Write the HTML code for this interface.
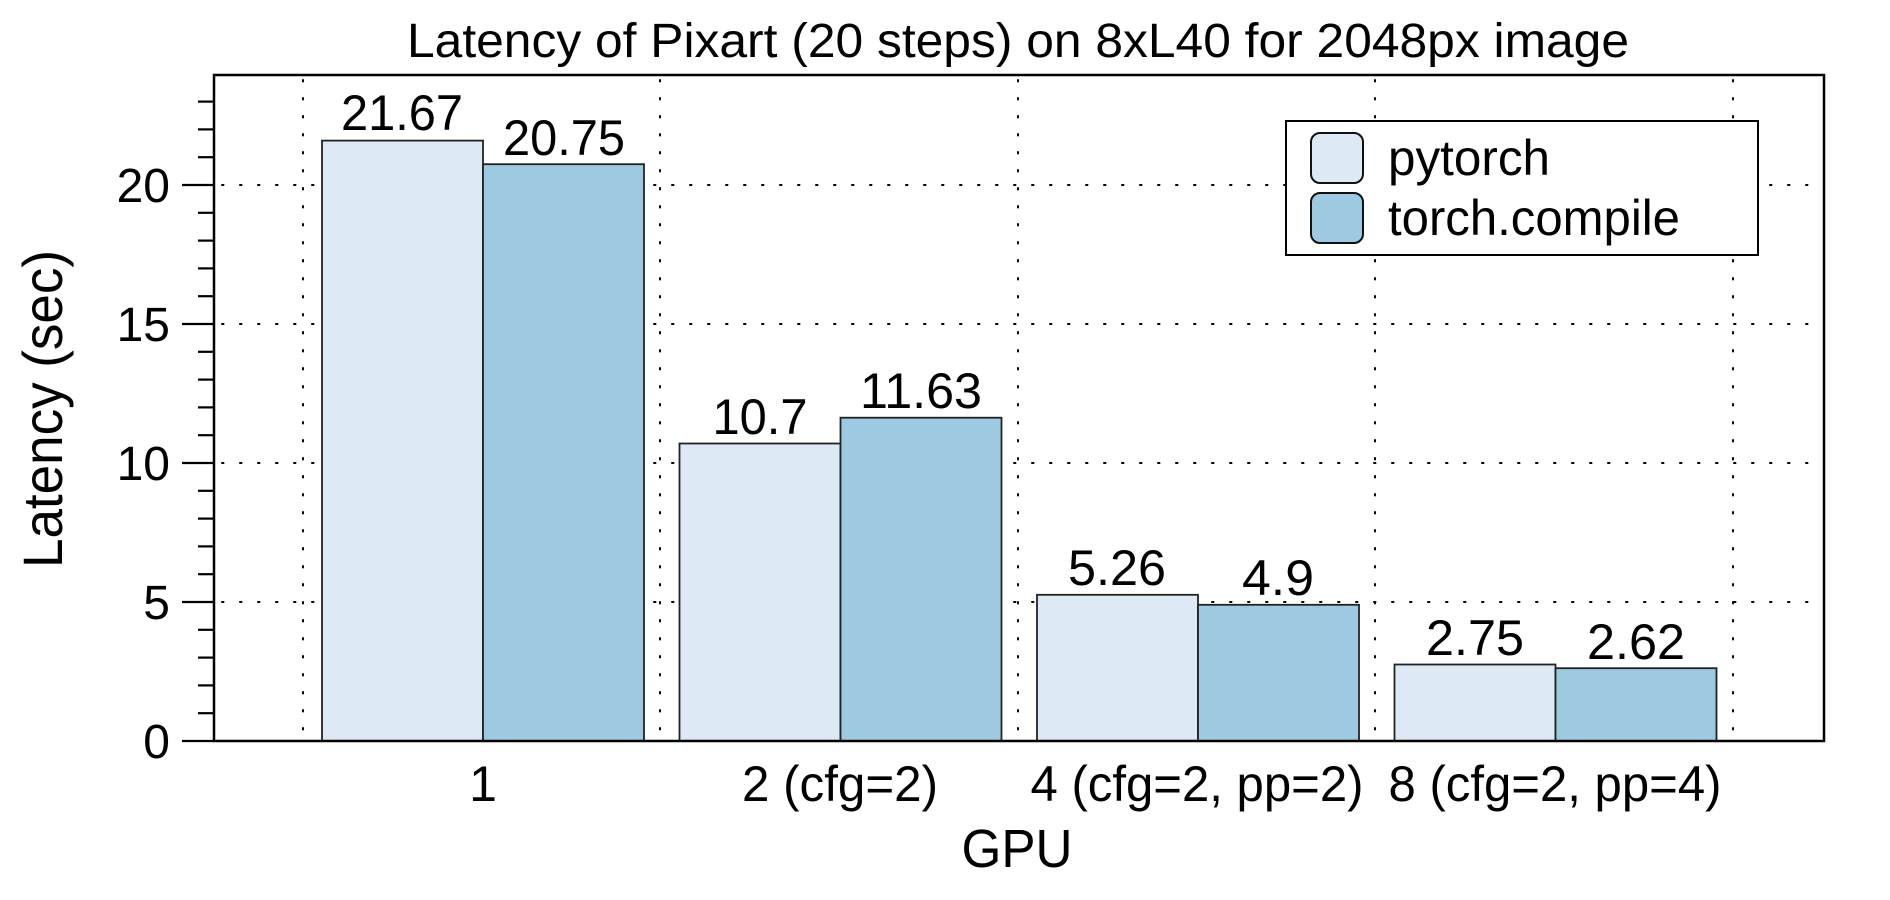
<!DOCTYPE html>
<html><head><meta charset="utf-8"><style>
html,body{margin:0;padding:0;background:#fff;}
svg{display:block;font-family:"Liberation Sans",Arial,sans-serif;}
</style></head><body>
<svg width="1890" height="900" viewBox="0 0 1890 900" xmlns="http://www.w3.org/2000/svg">
<rect width="1890" height="900" fill="#fff"/>
<text x="1018" y="57" font-size="48" text-anchor="middle" textLength="1222" lengthAdjust="spacingAndGlyphs">Latency of Pixart (20 steps) on 8xL40 for 2048px image</text>
<g stroke="#000" stroke-width="2" stroke-dasharray="1.5 16.5" stroke-linecap="round">
<line x1="303" y1="80" x2="303" y2="740"/>
<line x1="660" y1="80" x2="660" y2="740"/>
<line x1="1018" y1="80" x2="1018" y2="740"/>
<line x1="1375" y1="80" x2="1375" y2="740"/>
<line x1="1733" y1="80" x2="1733" y2="740"/>
<line x1="222" y1="602" x2="1822" y2="602"/>
<line x1="222" y1="463" x2="1822" y2="463"/>
<line x1="222" y1="324" x2="1822" y2="324"/>
<line x1="222" y1="185" x2="1822" y2="185"/>
</g>
<g stroke="#222" stroke-width="1.8">
<rect x="322" y="140.6" width="161" height="600.4" fill="#dde9f5"/>
<rect x="483" y="164.2" width="161" height="576.8" fill="#9ecae1"/>
<rect x="679.5" y="443.5" width="161" height="297.5" fill="#dde9f5"/>
<rect x="840.5" y="417.7" width="161" height="323.3" fill="#9ecae1"/>
<rect x="1037" y="594.8" width="161" height="146.2" fill="#dde9f5"/>
<rect x="1198" y="604.8" width="161" height="136.2" fill="#9ecae1"/>
<rect x="1394.5" y="664.5" width="161" height="76.5" fill="#dde9f5"/>
<rect x="1555.5" y="668.2" width="161" height="72.8" fill="#9ecae1"/>
</g>
<g font-size="50" text-anchor="middle">
<text x="402" y="130" textLength="122" lengthAdjust="spacingAndGlyphs">21.67</text>
<text x="564" y="155" textLength="122" lengthAdjust="spacingAndGlyphs">20.75</text>
<text x="760" y="434" textLength="95" lengthAdjust="spacingAndGlyphs">10.7</text>
<text x="921" y="408" textLength="122" lengthAdjust="spacingAndGlyphs">11.63</text>
<text x="1117" y="585" textLength="98" lengthAdjust="spacingAndGlyphs">5.26</text>
<text x="1278" y="595" textLength="72" lengthAdjust="spacingAndGlyphs">4.9</text>
<text x="1475" y="655" textLength="98" lengthAdjust="spacingAndGlyphs">2.75</text>
<text x="1636" y="659" textLength="98" lengthAdjust="spacingAndGlyphs">2.62</text>
</g>
<rect x="214" y="75" width="1610" height="666" fill="none" stroke="#000" stroke-width="2.5"/>
<g stroke="#000" stroke-width="2.2">
<line x1="182" y1="741" x2="214" y2="741"/>
<line x1="182" y1="602" x2="214" y2="602"/>
<line x1="182" y1="463" x2="214" y2="463"/>
<line x1="182" y1="324" x2="214" y2="324"/>
<line x1="182" y1="185" x2="214" y2="185"/>
<line x1="198" y1="713.2" x2="214" y2="713.2"/>
<line x1="198" y1="685.4" x2="214" y2="685.4"/>
<line x1="198" y1="657.6" x2="214" y2="657.6"/>
<line x1="198" y1="629.8" x2="214" y2="629.8"/>
<line x1="198" y1="574.2" x2="214" y2="574.2"/>
<line x1="198" y1="546.4" x2="214" y2="546.4"/>
<line x1="198" y1="518.6" x2="214" y2="518.6"/>
<line x1="198" y1="490.8" x2="214" y2="490.8"/>
<line x1="198" y1="435.2" x2="214" y2="435.2"/>
<line x1="198" y1="407.4" x2="214" y2="407.4"/>
<line x1="198" y1="379.6" x2="214" y2="379.6"/>
<line x1="198" y1="351.8" x2="214" y2="351.8"/>
<line x1="198" y1="296.2" x2="214" y2="296.2"/>
<line x1="198" y1="268.4" x2="214" y2="268.4"/>
<line x1="198" y1="240.6" x2="214" y2="240.6"/>
<line x1="198" y1="212.8" x2="214" y2="212.8"/>
<line x1="198" y1="157.2" x2="214" y2="157.2"/>
<line x1="198" y1="129.4" x2="214" y2="129.4"/>
<line x1="198" y1="101.6" x2="214" y2="101.6"/>
</g>
<g font-size="48" text-anchor="end">
<text x="170" y="758">0</text>
<text x="170" y="619">5</text>
<text x="170" y="480">10</text>
<text x="170" y="341">15</text>
<text x="170" y="202">20</text>
</g>
<g font-size="50" text-anchor="middle">
<text x="483" y="801">1</text>
<text x="840" y="801" textLength="196" lengthAdjust="spacingAndGlyphs">2 (cfg=2)</text>
<text x="1197" y="801" textLength="333" lengthAdjust="spacingAndGlyphs">4 (cfg=2, pp=2)</text>
<text x="1555" y="801" textLength="333" lengthAdjust="spacingAndGlyphs">8 (cfg=2, pp=4)</text>
</g>
<text x="1017" y="867" font-size="54" text-anchor="middle" textLength="111" lengthAdjust="spacingAndGlyphs">GPU</text>
<text transform="translate(62,409) rotate(-90)" font-size="56" text-anchor="middle" textLength="318" lengthAdjust="spacingAndGlyphs">Latency (sec)</text>
<rect x="1286" y="121" width="472" height="134" fill="#fff" stroke="#000" stroke-width="2"/>
<rect x="1311" y="133" width="52" height="50" rx="9" fill="#dde9f5" stroke="#111" stroke-width="2"/>
<rect x="1311" y="193" width="52" height="50" rx="9" fill="#9ecae1" stroke="#111" stroke-width="2"/>
<text x="1388" y="175" font-size="50" textLength="162" lengthAdjust="spacingAndGlyphs">pytorch</text>
<text x="1388" y="235" font-size="50" textLength="292" lengthAdjust="spacingAndGlyphs">torch.compile</text>
</svg>
</body></html>
